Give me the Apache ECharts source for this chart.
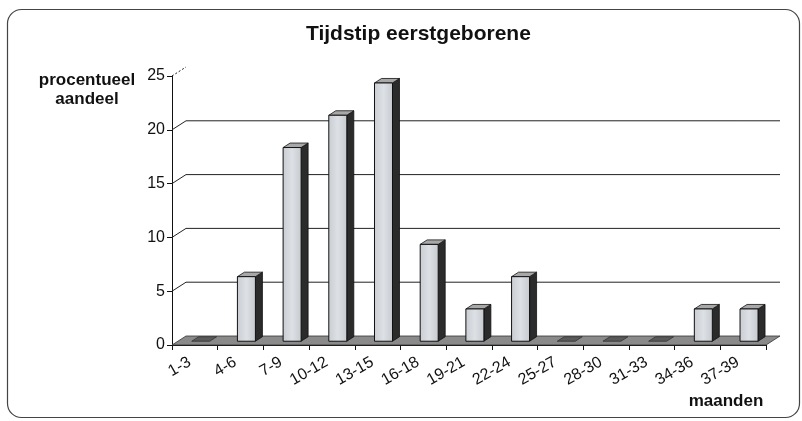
<!DOCTYPE html>
<html>
<head>
<meta charset="utf-8">
<script src="https://cdn.jsdelivr.net/npm/echarts@6/dist/echarts.min.js"></script>
<style>
html,body{margin:0;padding:0;background:#fff;}
#chart{width:802px;height:421px;}
</style>
</head>
<body>
<div id="chart"></div>
<script>
// ---- data ----
var categories = ['1-3','4-6','7-9','10-12','13-15','16-18','19-21','22-24','25-27','28-30','31-33','34-36','37-39'];
var percentages = [0, 6, 18, 21, 24, 9, 3, 6, 0, 0, 0, 3, 3];
var yTicks = [5, 10, 15, 20, 25];
var titleText = 'Tijdstip eerstgeborene';
var yAxisTitle = ['procentueel', 'aandeel'];
var xAxisTitle = 'maanden';

// ---- style constants ----
var FONT = '"Liberation Sans", Arial, sans-serif';
var DX = 14, DY = -9;           // depth vector of the 3D box
var BAR_W = 18;                 // bar front width in px
var BAR_FRONT = 0.42;           // front face position along depth
var BAR_DEPTH = 0.5;            // bar depth as part of depth vector

var chart = echarts.init(document.getElementById('chart'), null, {renderer: 'canvas'});

function poly(points, fill, stroke, lw) {
  return {type: 'polygon', shape: {points: points},
    style: {fill: fill, stroke: stroke || '#111', lineWidth: lw == null ? 0.8 : lw}};
}

var barSeriesData = percentages.map(function (v, i) { return [i, v]; });
var gridData = yTicks.map(function (v) { return [0, v]; });

var option = {
  backgroundColor: '#ffffff',
  animation: false,
  title: {
    text: titleText,
    left: 301, top: 19,
    textStyle: {fontFamily: FONT, fontSize: 21, fontWeight: 'bold', color: '#111'}
  },
  graphic: [
    {type: 'rect', shape: {x: 7.5, y: 9.5, width: 792, height: 408, r: 14},
     style: {fill: 'none', stroke: '#444', lineWidth: 1.2}, silent: true, z: -10},
    {type: 'text', x: 87, y: 80, style: {text: yAxisTitle[0], fontFamily: FONT, fontSize: 17,
      fontWeight: 'bold', fill: '#111', textAlign: 'center', textVerticalAlign: 'middle'}},
    {type: 'text', x: 87, y: 99, style: {text: yAxisTitle[1], fontFamily: FONT, fontSize: 17,
      fontWeight: 'bold', fill: '#111', textAlign: 'center', textVerticalAlign: 'middle'}},
    {type: 'text', x: 726, y: 401, style: {text: xAxisTitle, fontFamily: FONT, fontSize: 17,
      fontWeight: 'bold', fill: '#111', textAlign: 'center', textVerticalAlign: 'middle'}}
  ],
  grid: {left: 172, right: 36, top: 76, bottom: 76, containLabel: false},
  xAxis: {
    type: 'category',
    data: categories,
    boundaryGap: true,
    axisLine: {show: true, lineStyle: {color: '#111', width: 1}},
    axisTick: {show: true, interval: 0, length: 5, lineStyle: {color: '#111'}},
    axisLabel: {interval: 0, rotate: 30, margin: 13, fontFamily: FONT, fontSize: 16,
      color: '#111', padding: [0, 6, 0, 0]},
    splitLine: {show: false}
  },
  yAxis: {
    type: 'value', min: 0, max: 25, interval: 5,
    axisLine: {show: true, lineStyle: {color: '#111', width: 1}},
    axisTick: {show: true, length: 5, lineStyle: {color: '#111'}},
    axisLabel: {margin: 7, fontFamily: FONT, fontSize: 16, color: '#111'},
    splitLine: {show: false}
  },
  series: [
    // back-wall gridlines with diagonal connectors
    {
      type: 'custom', z: 1, silent: true,
      data: gridData,
      renderItem: function (params, api) {
        var cs = params.coordSys;
        var y = api.coord([0, api.value(1)])[1];
        var x0 = cs.x;
        var isTop = api.value(1) === 25;
        var children = [
          {type: 'line', shape: {x1: x0, y1: y, x2: x0 + DX, y2: y + DY},
           style: {stroke: '#222', lineWidth: 1, lineDash: isTop ? [2, 2] : null}}
        ];
        if (!isTop) {
          children.push({type: 'line', shape: {x1: x0 + DX, y1: y + DY, x2: x0 + cs.width + DX, y2: y + DY},
            style: {stroke: '#222', lineWidth: 1}});
        }
        return {type: 'group', children: children};
      }
    },
    // floor
    {
      type: 'custom', z: 2, silent: true,
      data: [[0, 0]],
      renderItem: function (params, api) {
        var cs = params.coordSys;
        var y0 = api.coord([0, 0])[1];
        var xl = cs.x, xr = cs.x + cs.width;
        return poly([[xl, y0], [xr, y0], [xr + DX, y0 + DY], [xl + DX, y0 + DY]], '#8a8a8a', '#333', 0.8);
      }
    },
    // 3D bars
    {
      type: 'custom', z: 3, silent: true,
      data: barSeriesData,
      renderItem: function (params, api) {
        var idx = api.value(0), val = api.value(1);
        var base = api.coord([idx, 0]);
        var top = api.coord([idx, val]);
        var fx = BAR_FRONT * DX, fy = BAR_FRONT * DY;
        var bx = BAR_DEPTH * DX, by = BAR_DEPTH * DY;
        var xl = base[0] - BAR_W / 2 + fx;
        var xr = xl + BAR_W;
        var yb = base[1] + fy;
        var yt = top[1] + fy;
        if (val <= 0) {
          // flat top face of an empty bar
          return poly([[xl, yb], [xr, yb], [xr + bx, yb + by], [xl + bx, yb + by]], '#5a5a5a', '#333', 0.8);
        }
        return {type: 'group', children: [
          // side face
          poly([[xr, yb], [xr + bx, yb + by], [xr + bx, yt + by], [xr, yt]], '#2b2b2b', '#111', 0.8),
          // top face
          poly([[xl, yt], [xr, yt], [xr + bx, yt + by], [xl + bx, yt + by]], '#a8a8a8', '#111', 0.8),
          // front face
          {type: 'rect', shape: {x: xl, y: yt, width: BAR_W, height: yb - yt},
           style: {fill: {type: 'linear', x: 0, y: 0, x2: 1, y2: 0, colorStops: [
             {offset: 0, color: '#c9cdd2'}, {offset: 0.5, color: '#dde0e4'}, {offset: 1, color: '#c6cacf'}]},
             stroke: '#111', lineWidth: 1}}
        ]};
      }
    }
  ]
};
chart.setOption(option);
</script>
</body>
</html>
